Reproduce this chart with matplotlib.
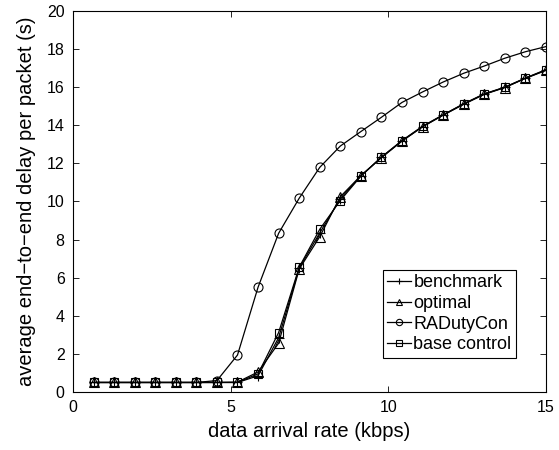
import numpy as np
import matplotlib
matplotlib.use('Agg')
import matplotlib.pyplot as plt

# data arrival rate (kbps), 23 points up to 15
rate = [15.0 / 23 * k for k in range(1, 24)]

benchmark = [0.5, 0.5, 0.5, 0.5, 0.5, 0.5, 0.5, 0.5, 0.85, 2.85, 6.5, 8.35, 10.15,
             11.34, 12.32, 13.18, 13.93, 14.54, 15.12, 15.64, 15.99, 16.47, 16.9]
optimal = [0.5, 0.5, 0.5, 0.5, 0.5, 0.5, 0.5, 0.52, 1.05, 2.56, 6.45, 8.15, 10.25,
           11.36, 12.3, 13.17, 13.92, 14.53, 15.1, 15.62, 15.98, 16.46, 16.88]
radutycon = [0.5, 0.5, 0.5, 0.5, 0.5, 0.5, 0.6, 1.94, 5.5, 8.33, 10.17, 11.79, 12.91,
             13.67, 14.42, 15.2, 15.75, 16.27, 16.73, 17.11, 17.52, 17.86, 18.13]
base_control = [0.5, 0.5, 0.5, 0.5, 0.5, 0.5, 0.5, 0.5, 0.95, 3.12, 6.55, 8.54, 10.05,
                11.33, 12.33, 13.2, 13.95, 14.55, 15.13, 15.65, 16.0, 16.48, 16.92]

plt.rcParams['font.family'] = ['Liberation Sans', 'DejaVu Sans']

fig = plt.figure(figsize=(5.59, 4.5), dpi=100)
ax = fig.add_axes([0.1306, 0.1289, 0.846, 0.8467])

style = dict(color='black', linewidth=0.9, markerfacecolor='none', markeredgewidth=0.8)
ax.plot(rate, benchmark, marker='+', markersize=7, label='benchmark', **style)
ax.plot(rate, optimal, marker='^', markersize=6.5, label='optimal', **style)
ax.plot(rate, radutycon, marker='o', markersize=6.5, label='RADutyCon', **style)
ax.plot(rate, base_control, marker='s', markersize=5.5, label='base control', **style)

ax.set_xlim(0, 15)
ax.set_ylim(0, 20)
ax.set_xticks([0, 5, 10, 15])
ax.set_yticks(np.arange(0, 21, 2))
ax.tick_params(direction='in', top=True, right=True, length=4, width=0.6,
               labelsize=11.5, pad=6)
for s in ax.spines.values():
    s.set_linewidth(0.8)

ax.set_xlabel('data arrival rate (kbps)', fontsize=14.5, labelpad=5)
ax.set_ylabel('average end\u2212to\u2212end delay per packet (s)', fontsize=14.5, labelpad=8)

leg = ax.legend(loc='lower right', bbox_to_anchor=(0.937, 0.09), fancybox=False,
                edgecolor='black', framealpha=1, handlelength=1.3, handletextpad=0.15,
                borderpad=0.25, labelspacing=0.2, borderaxespad=0, fontsize=13,
                markerscale=0.7)
leg.get_frame().set_linewidth(0.8)

fig.savefig('out.png', dpi=100)
